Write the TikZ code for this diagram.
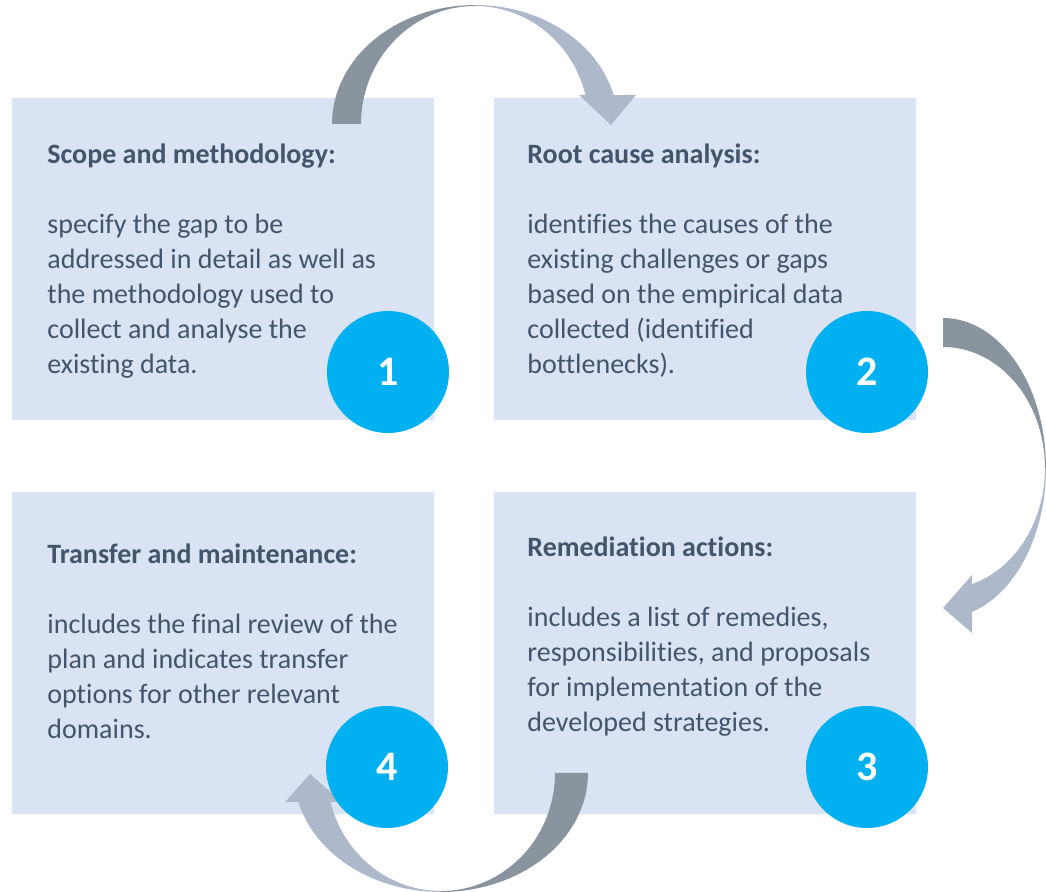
\documentclass[tikz,border=0pt]{standalone}
\usepackage{fontspec}
\setmainfont{Carlito}[Ligatures=NoCommon]
\definecolor{boxfill}{HTML}{DAE3F3}
\definecolor{circfill}{HTML}{00B0F0}
\definecolor{txtcol}{HTML}{44546A}
\definecolor{arrdark}{HTML}{8A949F}
\definecolor{arrlight}{HTML}{ADB8CA}
\begin{document}
\begin{tikzpicture}[x=0.5pt,y=-0.5pt,
  box/.style={fill=boxfill, draw=none, anchor=north west, minimum width=211pt, minimum height=161pt, inner sep=0pt},
  txt/.style={anchor=base west, inner sep=0pt, text=txtcol, font=\fontsize{14}{17.5}\selectfont},
  num/.style={circle, fill=circfill, minimum size=61pt, inner sep=0pt, text=white, font=\fontsize{21}{24}\selectfont\bfseries}]
\useasboundingbox (0,0) rectangle (1046,892);
% boxes
\node[box] (b1) at (12,98) {};
\node[box] (b2) at (494,98) {};
\node[box] (b3) at (494,492) {};
\node[box] (b4) at (12,492) {};
% texts
\node[txt] (t1) at (47,164) {\parbox[t]{200pt}{\setlength\baselineskip{17.5pt}\textbf{Scope and methodology:}\\[17.5pt]
specify the gap to be\\ addressed in detail as well as\\ the methodology used to\\ collect and analyse the\\ existing data.}};
\node[txt] (t2) at (527,164) {\parbox[t]{200pt}{\setlength\baselineskip{17.5pt}\textbf{Root cause analysis:}\\[17.5pt]
identifies the causes of the\\ existing challenges or gaps\\ based on the empirical data\\ collected (identified\\ bottlenecks).}};
\node[txt] (t3) at (527,557) {\parbox[t]{200pt}{\setlength\baselineskip{17.5pt}\textbf{Remediation actions:}\\[17.5pt]
includes a list of remedies,\\ responsibilities, and proposals\\ for implementation of the\\ developed strategies.}};
\node[txt] (t4) at (47,564) {\parbox[t]{200pt}{\setlength\baselineskip{17.5pt}\textbf{Transfer and maintenance:}\\[17.5pt]
includes the final review of the\\ plan and indicates transfer\\ options for other relevant\\ domains.}};
% top arrow (1 -> 2)
\fill[arrdark] plot[domain=180:90,samples=40] ({475+143*cos(\x)},{124-119*sin(\x)})
  -- plot[domain=90:180,samples=40] ({475+114*cos(\x)},{124-118*sin(\x)}) -- cycle;
\fill[arrlight] plot[domain=90:14.1,samples=40] ({475+143*cos(\x)},{124-119*sin(\x)})
  -- (636,95) -- (611,125) -- (579,95)
  -- plot[domain=14.2:90,samples=40] ({475+114*cos(\x)},{124-118*sin(\x)}) -- cycle;
% right arrow (2 -> 3)
\fill[arrdark] plot[domain=90:0,samples=40] ({943+103*cos(\x)},{468-150*sin(\x)})
  -- plot[domain=0:90,samples=40] ({943+102*cos(\x)},{468-121*sin(\x)}) -- cycle;
\fill[arrlight] plot[domain=0:-73.6,samples=40] ({943+103*cos(\x)},{468-150*sin(\x)})
  -- (972,633) -- (943,608) -- (972,575)
  -- plot[domain=-73.5:0,samples=40] ({943+102*cos(\x)},{468-121*sin(\x)}) -- cycle;
% bottom arrow (3 -> 4)
\fill[arrdark] plot[domain=0:-90,samples=40] ({441+147*cos(\x)},{773-119*sin(\x)})
  -- plot[domain=-90:0,samples=40] ({441+114*cos(\x)},{773-118*sin(\x)}) -- cycle;
\fill[arrlight] plot[domain=-90:-165.9,samples=40] ({441+147*cos(\x)},{773-119*sin(\x)})
  -- (285,802) -- (310,774) -- (342,802)
  -- plot[domain=-165.8:-90,samples=40] ({441+114*cos(\x)},{773-118*sin(\x)}) -- cycle;
% circles
\node[num] (c1) at (388,372) {1};
\node[num] (c2) at (867,372) {2};
\node[num] (c3) at (867,767) {3};
\node[num] (c4) at (387,767) {4};
\end{tikzpicture}
\end{document}
